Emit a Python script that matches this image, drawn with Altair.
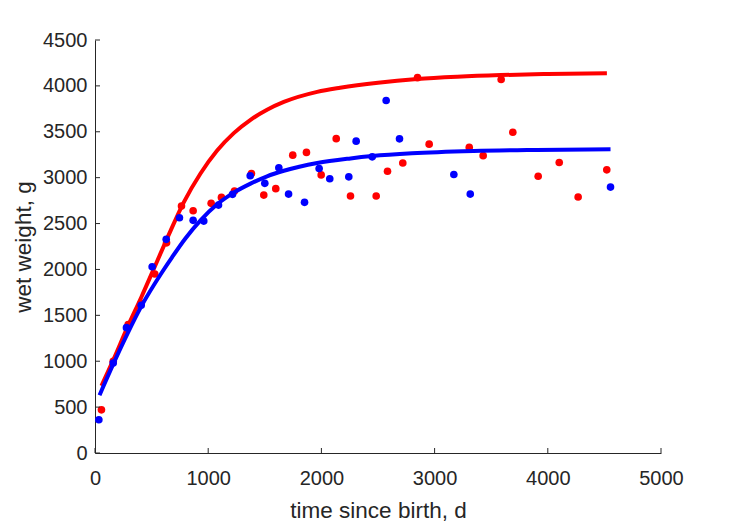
import altair as alt
import pandas as pd

# ---- data ----
red_t = [57, 161, 293, 408, 528, 632, 764, 867, 1026, 1117, 1232, 1382, 1491, 1597,
         1747, 1868, 1998, 2131, 2257, 2484, 2584, 2719, 2849, 2952, 3306, 3429,
         3588, 3691, 3915, 4101, 4268, 4521]
red_w = [470, 1000, 1400, 1630, 1950, 2290, 2690, 2640, 2720, 2785, 2855, 3045, 2810, 2880,
         3245, 3275, 3030, 3425, 2800, 2800, 3070, 3160, 4090, 3365, 3330, 3240,
         4070, 3495, 3015, 3165, 2790, 3085]

blue_t = [34, 161, 278, 408, 505, 629, 746, 867, 961, 1091, 1215, 1371, 1500, 1624,
          1710, 1851, 1980, 2074, 2242, 2307, 2449, 2572, 2690, 3170, 3315, 4554]
blue_w = [362, 980, 1366, 1610, 2030, 2328, 2563, 2535, 2527, 2701, 2818, 3021, 2938, 3108,
          2821, 2731, 3100, 2988, 3009, 3398, 3227, 3841, 3423, 3035, 2821, 2897]

red_fit_t = [57, 160, 290, 410, 549, 667, 784, 932, 1079, 1226, 1374, 1520, 1668,
             1963, 2165, 2500, 2846, 3200, 3582, 4000, 4522]
red_fit_w = [732, 1010, 1380, 1700, 2090, 2420, 2730, 3045, 3295, 3485, 3630, 3740, 3825,
             3935, 3980, 4035, 4075, 4100, 4118, 4130, 4138]

blue_fit_t = [40, 160, 285, 410, 595, 682, 800, 932, 1079, 1230, 1374, 1520, 1668,
              1963, 2257, 2449, 2800, 3346, 3900, 4554]
blue_fit_w = [630, 965, 1295, 1600, 1975, 2135, 2340, 2535, 2710, 2840, 2935, 3015, 3075,
              3160, 3210, 3235, 3265, 3290, 3302, 3310]

x_ticks = [0, 1000, 2000, 3000, 4000, 5000]
y_ticks = [0, 500, 1000, 1500, 2000, 2500, 3000, 3500, 4000, 4500]

W, H = 566, 413
FONT = "Liberation Sans"
TXT = "#262626"

red_pts = pd.DataFrame({"t": red_t, "w": red_w})
blue_pts = pd.DataFrame({"t": blue_t, "w": blue_w})
red_fit = pd.DataFrame({"t": red_fit_t, "w": red_fit_w})
blue_fit = pd.DataFrame({"t": blue_fit_t, "w": blue_fit_w})
xt = pd.DataFrame({"t": x_ticks})
yt = pd.DataFrame({"w": y_ticks})

xs = alt.Scale(domain=[0, 5000], nice=False, zero=False)
ys = alt.Scale(domain=[0, 4500], nice=False, zero=False)

xaxis = alt.Axis(values=x_ticks, ticks=False, grid=False, labelPadding=15, labelFlush=False,
                 title="time since birth, d", titlePadding=11, format="d")
yaxis = alt.Axis(values=y_ticks, ticks=False, grid=False, labelPadding=8, labelFlush=False,
                 title="wet weight, g", titlePadding=7, format="d")

X = alt.X("t:Q", scale=xs, axis=xaxis)
Y = alt.Y("w:Q", scale=ys, axis=yaxis)

red_line = alt.Chart(red_fit).mark_line(color="#FF0000", strokeWidth=4, interpolate="monotone").encode(
    x=X, y=Y, order="t:Q")
red_dots = alt.Chart(red_pts).mark_circle(color="#FF0000", size=58, opacity=1).encode(x=X, y=Y)
blue_line = alt.Chart(blue_fit).mark_line(color="#0000FF", strokeWidth=4, interpolate="monotone").encode(
    x=X, y=Y, order="t:Q")
blue_dots = alt.Chart(blue_pts).mark_circle(color="#0000FF", size=58, opacity=1).encode(x=X, y=Y)

xtick_marks = alt.Chart(xt).mark_rule(color=TXT, strokeWidth=1).encode(
    x=X, y=alt.value(H), y2=alt.value(H - 5))
ytick_marks = alt.Chart(yt).mark_rule(color=TXT, strokeWidth=1).encode(
    y=Y, x=alt.value(0), x2=alt.value(5))

chart = alt.layer(red_line, red_dots, blue_line, blue_dots, xtick_marks, ytick_marks).properties(
    width=W, height=H,
    autosize=alt.AutoSizeParams(type="none"),
    padding={"left": 95, "top": 40, "right": 68, "bottom": 68},
    background="white",
).configure_view(stroke=None).configure_axis(
    domainColor=TXT, domainWidth=1,
    labelColor=TXT, labelFont=FONT, labelFontSize=20,
    titleColor=TXT, titleFont=FONT, titleFontSize=22.5, titleFontWeight="normal",
)

chart.save("out.html", embed_options={"renderer": "svg", "actions": False})
